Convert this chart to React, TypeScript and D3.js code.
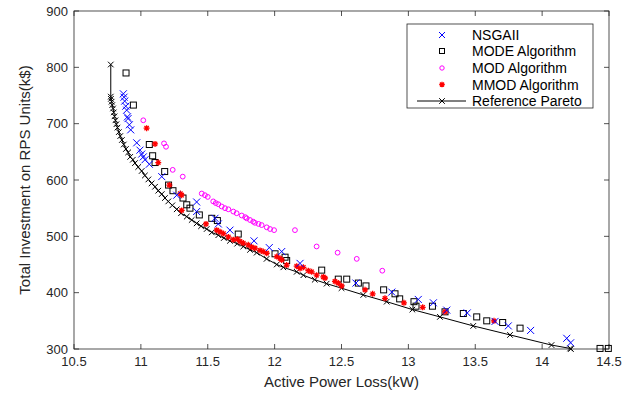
import React from "react";
import * as d3 from "d3";

const xTicks = [10.5, 11, 11.5, 12, 12.5, 13, 13.5, 14, 14.5];
const yTicks = [300, 400, 500, 600, 700, 800, 900];

const nsga: [number, number][] = [
  [10.869, 753], [10.874, 747], [10.879, 740], [10.887, 731], [10.894, 724], [10.899, 712], [10.904, 709],
  [10.914, 698], [10.924, 689], [10.969, 666], [10.993, 653], [11.006, 646], [11.018, 641], [11.031, 636],
  [11.063, 628], [11.156, 606], [11.268, 573], [11.417, 561], [11.417, 544], [11.554, 532], [11.579, 522],
  [11.666, 511], [11.846, 492], [11.96, 480], [12.053, 473], [12.19, 452], [12.608, 417], [12.876, 401],
  [13.074, 388], [13.187, 382], [13.287, 369], [13.44, 364], [13.648, 349], [13.747, 341], [13.914, 333],
  [14.184, 319], [14.213, 311],
];

const mode: [number, number][] = [
  [10.889, 790], [10.944, 733], [11.063, 663], [11.088, 643], [11.106, 631], [11.178, 615], [11.207, 591],
  [11.24, 581], [11.315, 568], [11.343, 556], [11.367, 550], [11.437, 538], [11.53, 532], [11.572, 528],
  [11.728, 504], [12.003, 469], [12.078, 463], [12.09, 457], [12.352, 440], [12.476, 424], [12.539, 424],
  [12.626, 417], [12.683, 412], [12.815, 405], [12.9, 398], [12.935, 389], [13.042, 384], [13.057, 376],
  [13.18, 376], [13.274, 366], [13.411, 363], [13.511, 357], [13.586, 350], [13.705, 347], [13.835, 337],
  [14.433, 301], [14.495, 301],
];

const mod: [number, number][] = [
  [11.018, 706], [11.173, 665], [11.188, 659], [11.238, 618], [11.313, 606], [11.455, 576], [11.479, 573],
  [11.5, 570], [11.541, 562], [11.56, 559], [11.579, 557], [11.604, 553], [11.629, 550], [11.654, 548],
  [11.691, 544], [11.716, 541], [11.754, 537], [11.78, 534], [11.791, 532], [11.816, 529], [11.84, 526],
  [11.853, 524], [11.88, 522], [11.903, 520], [11.941, 516], [11.966, 513], [11.996, 511], [12.152, 511],
  [12.314, 482], [12.471, 471], [12.614, 460], [12.805, 439],
];

const mmod: [number, number][] = [
  [11.043, 692], [11.106, 664], [11.13, 631], [11.213, 591], [11.295, 576], [11.305, 573], [11.305, 546],
  [11.487, 522], [11.567, 511], [11.592, 508], [11.617, 505], [11.654, 499], [11.691, 494], [11.721, 495],
  [11.741, 491], [11.766, 488], [11.803, 485], [11.828, 481], [11.853, 479], [11.891, 475], [11.915, 473],
  [11.941, 470], [12.016, 464], [12.04, 461], [12.053, 458], [12.09, 449], [12.165, 447], [12.19, 443],
  [12.215, 445], [12.252, 439], [12.277, 437], [12.314, 431], [12.364, 428], [12.377, 426], [12.451, 420],
  [12.476, 417], [12.501, 412], [12.676, 405], [12.733, 398], [12.825, 390], [12.967, 382], [13.107, 374],
  [13.274, 366], [13.64, 350],
];

const pareto: [number, number][] = [
  [10.775, 805], [10.775, 748], [10.776, 744], [10.781, 739], [10.786, 733], [10.792, 727], [10.797, 720],
  [10.803, 713], [10.81, 706], [10.817, 699], [10.825, 693], [10.835, 685], [10.846, 678], [10.858, 671],
  [10.872, 663], [10.888, 655], [10.905, 649], [10.92, 641], [10.94, 636], [10.956, 630], [10.98, 623],
  [11.006, 616], [11.03, 608], [11.056, 601], [11.08, 594], [11.106, 588], [11.13, 581], [11.156, 575],
  [11.18, 568], [11.205, 562], [11.235, 555], [11.268, 548], [11.3, 541], [11.343, 535], [11.38, 529],
  [11.417, 523], [11.45, 518], [11.492, 513], [11.53, 507], [11.579, 502], [11.62, 497], [11.666, 492],
  [11.72, 487], [11.766, 482], [11.816, 476], [11.866, 471], [11.94, 460], [12.016, 450], [12.065, 445],
  [12.165, 437], [12.215, 431], [12.3, 423], [12.389, 416], [12.5, 408], [12.663, 396], [12.838, 384],
  [13.03, 370], [13.236, 357], [13.485, 341], [13.76, 325], [14.07, 307], [14.21, 301], [14.215, 300],
];

const legendItems = ["NSGAII", "MODE Algorithm", "MOD Algorithm", "MMOD Algorithm", "Reference Pareto"];

const L = 74, R = 609, T = 11, B = 349;
const FONT = "Arial, 'Liberation Sans', Helvetica, sans-serif";

const Cross = ({ x, y, s, c, w = 1 }: any) => (
  <path d={`M${x - s},${y - s}L${x + s},${y + s}M${x - s},${y + s}L${x + s},${y - s}`} stroke={c} strokeWidth={w} fill="none" />
);
const Square = ({ x, y, s, c }: any) => (
  <rect x={x - s} y={y - s} width={2 * s} height={2 * s} stroke={c} strokeWidth={1} fill="none" />
);
const Circ = ({ x, y, r, c }: any) => <circle cx={x} cy={y} r={r} stroke={c} strokeWidth={1} fill="none" />;
const Star = ({ x, y, s, c }: any) => {
  const d = s * 0.72;
  return (
    <path
      d={`M${x - s},${y}L${x + s},${y}M${x},${y - s}L${x},${y + s}M${x - d},${y - d}L${x + d},${y + d}M${x - d},${y + d}L${x + d},${y - d}`}
      stroke={c}
      strokeWidth={1.3}
      fill="none"
    />
  );
};

export default function App() {
  const x = d3.scaleLinear().domain([10.5, 14.5]).range([L, R]);
  const y = d3.scaleLinear().domain([300, 900]).range([B, T]);
  const line = d3.line<[number, number]>().x((d) => x(d[0])).y((d) => y(d[1]));
  const tl = 5;
  const axisColor = "#262626";
  const legY = [35, 51, 68, 84.5, 101];
  return (
    <svg width={638} height={397} style={{ position: "absolute", left: 0, top: 0, background: "#fff" }} fontFamily={FONT}>
      <rect x={0} y={0} width={638} height={397} fill="#fff" />
      {/* ticks */}
      {xTicks.map((t) => (
        <g key={"xt" + t}>
          <line x1={x(t)} x2={x(t)} y1={B} y2={B - tl} stroke={axisColor} strokeWidth={0.8} />
          <line x1={x(t)} x2={x(t)} y1={T} y2={T + tl} stroke={axisColor} strokeWidth={0.8} />
          <text x={x(t)} y={B + 17} textAnchor="middle" fontSize={13} fill={axisColor}>
            {t}
          </text>
        </g>
      ))}
      {yTicks.map((t) => (
        <g key={"yt" + t}>
          <line x1={L} x2={L + tl} y1={y(t)} y2={y(t)} stroke={axisColor} strokeWidth={0.8} />
          <line x1={R} x2={R - tl} y1={y(t)} y2={y(t)} stroke={axisColor} strokeWidth={0.8} />
          <text x={L - 6} y={y(t) + 4.5} textAnchor="end" fontSize={13} fill={axisColor}>
            {t}
          </text>
        </g>
      ))}
      <rect x={L} y={T} width={R - L} height={B - T} fill="none" stroke={axisColor} strokeWidth={0.8} />
      <text x={(L + R) / 2} y={387} textAnchor="middle" fontSize={15} fill={axisColor}>
        Active Power Loss(kW)
      </text>
      <text transform={`translate(30,${(T + B) / 2}) rotate(-90)`} textAnchor="middle" fontSize={15} fill={axisColor}>
        Total Investment on RPS Units(k$)
      </text>
      {/* data */}
      <path d={line(pareto) || ""} stroke="#000" strokeWidth={1} fill="none" />
      {pareto.map((d, i) => (
        <Cross key={"p" + i} x={x(d[0])} y={y(d[1])} s={2.8} c="#000" />
      ))}
      {mode.map((d, i) => (
        <Square key={"m" + i} x={x(d[0])} y={y(d[1])} s={3} c="#000" />
      ))}
      {mod.map((d, i) => (
        <Circ key={"o" + i} x={x(d[0])} y={y(d[1])} r={2.4} c="#ff00ff" />
      ))}
      {mmod.map((d, i) => (
        <Star key={"s" + i} x={x(d[0])} y={y(d[1])} s={3} c="#ff0000" />
      ))}
      {nsga.map((d, i) => (
        <Cross key={"n" + i} x={x(d[0])} y={y(d[1])} s={3.5} c="#0000ff" />
      ))}
      {/* legend */}
      <rect x={407} y={24} width={186} height={84} fill="#fff" stroke={axisColor} strokeWidth={0.8} />
      <Cross x={442} y={legY[0]} s={3} c="#0000ff" />
      <Square x={442} y={legY[1]} s={2.5} c="#000" />
      <Circ x={442} y={legY[2]} r={2.2} c="#ff00ff" />
      <Star x={442} y={legY[3]} s={2.8} c="#ff0000" />
      <line x1={417} x2={466} y1={legY[4]} y2={legY[4]} stroke="#000" strokeWidth={1} />
      <Cross x={442} y={legY[4]} s={2.8} c="#000" />
      {legendItems.map((t, i) => (
        <text key={t} x={472} y={legY[i] + 5} fontSize={14} fill="#000">
          {t}
        </text>
      ))}
    </svg>
  );
}
